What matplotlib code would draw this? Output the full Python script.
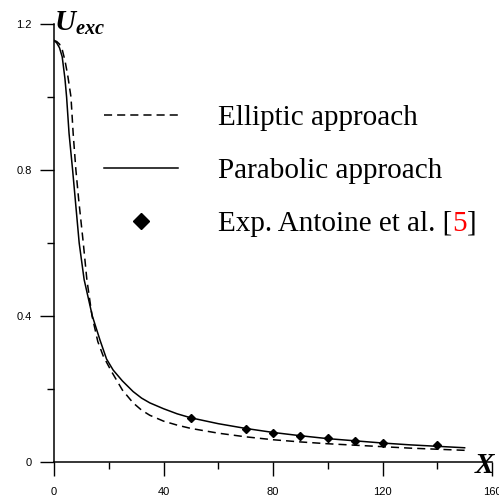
import matplotlib
matplotlib.use('Agg')
import matplotlib.pyplot as plt
from matplotlib.lines import Line2D

# excess velocity along the channel
x_par = [0, 1, 2, 3, 4, 4.6, 5.5, 6.8, 8, 9.2, 11, 14, 16.8, 19.2, 21.6, 25, 28.9,
         32, 35, 40, 45, 50, 60, 70, 80, 90, 100, 110, 120, 130, 140, 150]
u_par = [1.155, 1.148, 1.135, 1.11, 1.05, 1.0, 0.9, 0.8, 0.7, 0.6, 0.5, 0.4, 0.334,
         0.282, 0.252, 0.222, 0.193, 0.175, 0.162, 0.146, 0.132, 0.121, 0.105, 0.092,
         0.081, 0.072, 0.064, 0.058, 0.052, 0.047, 0.043, 0.039]

x_ell = [0, 1, 2, 3, 4, 5, 6.2, 7, 8, 9, 10.7, 12, 13.9, 16, 18, 21, 25, 28.9,
         32, 35, 40, 45, 50, 60, 70, 80, 90, 100, 110, 120, 130, 140, 150]
u_ell = [1.155, 1.152, 1.145, 1.13, 1.10, 1.06, 1.0, 0.9, 0.8, 0.72, 0.6, 0.5, 0.4,
         0.33, 0.29, 0.248, 0.197, 0.162, 0.142, 0.128, 0.112, 0.101, 0.092, 0.079,
         0.069, 0.061, 0.055, 0.050, 0.046, 0.042, 0.038, 0.035, 0.032]

# measurements
x_exp = [50, 70, 80, 90, 100, 110, 120, 140]
u_exp = [0.121, 0.0895, 0.079, 0.070, 0.065, 0.058, 0.052, 0.0466]

plt.rcParams['mathtext.fontset'] = 'custom'
plt.rcParams['mathtext.bfit'] = 'Liberation Serif:bold:italic'
plt.rcParams['mathtext.rm'] = 'Liberation Serif'

fig = plt.figure(figsize=(4.99, 5.03), dpi=100)
ax = fig.add_axes([54/499, 41/503, 438/499, 438/503])

dash = (5.3, 3.3)
ax.plot(x_ell, u_ell, color='black', lw=1.1, dashes=dash)
ax.plot(x_par, u_par, color='black', lw=1.1)
ax.plot(x_exp, u_exp, 'D', color='black', ms=4.3, ls='none')

ax.set_xlim(0, 160)
ax.set_ylim(0, 1.2)
ax.spines['top'].set_visible(False)
ax.spines['right'].set_visible(False)
for s in ['left', 'bottom']:
    ax.spines[s].set_linewidth(1.1)

ax.set_xticks([0, 40, 80, 120, 160])
ax.set_xticks([20, 60, 100, 140], minor=True)
ax.set_yticks([0, 0.4, 0.8, 1.2])
ax.set_yticks([0.2, 0.6, 1.0], minor=True)
ax.set_yticklabels(['0', '0.4', '0.8', '1.2'])
ax.tick_params(which='major', length=10, width=1.0, labelsize=8, pad=6)
ax.tick_params(axis='x', which='major', pad=8)
ax.tick_params(which='minor', length=5, width=1.0)
for lab in ax.get_xticklabels() + ax.get_yticklabels():
    lab.set_fontfamily('Liberation Sans')

ax.text(0.0, 0.986, r'$\mathbfit{U}_{\mathbfit{exc}}$', transform=ax.transAxes,
        fontsize=21, ha='left', va='baseline')
ax.text(0.959, -0.025, r'$\mathbfit{X}$', transform=ax.transAxes,
        fontsize=21, ha='left', va='baseline')

handles = [Line2D([], [], color='black', lw=1.1, dashes=dash),
           Line2D([], [], color='black', lw=1.1),
           Line2D([], [], color='black', marker='D', ms=4.3, ls='none')]
labels = ['Elliptic approach', 'Parabolic approach', 'Exp. Antoine et al. [']
leg = ax.legend(handles, labels, loc='upper left', bbox_to_anchor=(0.114, 0.816),
                frameon=False, handlelength=2.53, handletextpad=1.37,
                labelspacing=0.91, borderpad=0, borderaxespad=0, markerscale=2,
                prop={'family': 'Liberation Serif', 'size': 21})

ref = leg.get_texts()[2]
five = ax.annotate('5', xy=(1, 0), xycoords=ref, ha='left', va='bottom',
                   color='red', fontsize=21, family='Liberation Serif', zorder=6)
ax.annotate(']', xy=(1, 0), xycoords=five, ha='left', va='bottom',
            color='black', fontsize=21, family='Liberation Serif', zorder=7)

fig.canvas.draw()
fig.savefig('out.png', dpi=100)
